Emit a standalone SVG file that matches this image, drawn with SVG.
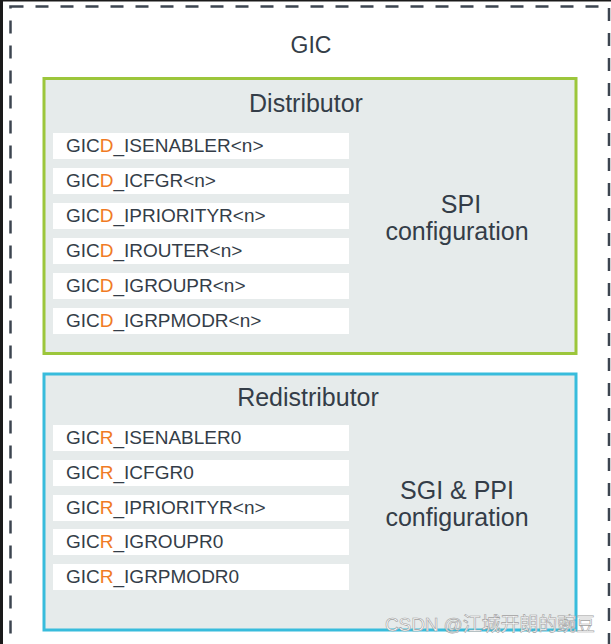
<svg xmlns="http://www.w3.org/2000/svg" width="611" height="644" viewBox="0 0 611 644">
<style>
.t{font-family:"Liberation Sans",Arial,sans-serif;fill:#343d48}
.title{font-size:25px;text-anchor:middle}
.reg{font-size:19px}
.o{fill:#f07b25}
.row{fill:#ffffff}
.panel{fill:#e6ebeb;stroke-width:3}
</style>
<rect x="0" y="0" width="611" height="644" fill="#ffffff"/>
<rect x="0" y="0" width="3" height="644" fill="#1a1a1a"/>
<rect x="0" y="0" width="611" height="1.5" fill="#1a1a1a"/>
<g id="gic">
<rect x="10.5" y="6.5" width="598.5" height="640" fill="none" stroke="#3d4550" stroke-width="2.5" stroke-dasharray="13 12"/>
<text class="t" x="311" y="53" font-size="23" text-anchor="middle">GIC</text>
</g>
<g id="distributor">
<rect class="panel" x="44" y="78.5" width="532" height="275" stroke="#9cc63b"/>
<text class="t title" x="306" y="112">Distributor</text>
<rect class="row" x="53" y="133" width="296" height="26"/>
<rect class="row" x="53" y="168" width="296" height="26"/>
<rect class="row" x="53" y="203" width="296" height="26"/>
<rect class="row" x="53" y="238" width="296" height="26"/>
<rect class="row" x="53" y="273" width="296" height="26"/>
<rect class="row" x="53" y="308" width="296" height="26"/>
<text class="t reg" x="66" y="152">GIC<tspan class="o">D</tspan>_ISENABLER&lt;n&gt;</text>
<text class="t reg" x="66" y="187">GIC<tspan class="o">D</tspan>_ICFGR&lt;n&gt;</text>
<text class="t reg" x="66" y="222">GIC<tspan class="o">D</tspan>_IPRIORITYR&lt;n&gt;</text>
<text class="t reg" x="66" y="257">GIC<tspan class="o">D</tspan>_IROUTER&lt;n&gt;</text>
<text class="t reg" x="66" y="292">GIC<tspan class="o">D</tspan>_IGROUPR&lt;n&gt;</text>
<text class="t reg" x="66" y="327">GIC<tspan class="o">D</tspan>_IGRPMODR&lt;n&gt;</text>
<text class="t title" x="461" y="213">SPI</text>
<text class="t title" x="457" y="240">configuration</text>
</g>
<g id="redistributor">
<rect class="panel" x="44" y="374" width="532" height="256" stroke="#38bcdc"/>
<text class="t title" x="308" y="406">Redistributor</text>
<rect class="row" x="53" y="425" width="296" height="26"/>
<rect class="row" x="53" y="460" width="296" height="26"/>
<rect class="row" x="53" y="495" width="296" height="26"/>
<rect class="row" x="53" y="529" width="296" height="26"/>
<rect class="row" x="53" y="564" width="296" height="26"/>
<text class="t reg" x="66" y="444">GIC<tspan class="o">R</tspan>_ISENABLER0</text>
<text class="t reg" x="66" y="479">GIC<tspan class="o">R</tspan>_ICFGR0</text>
<text class="t reg" x="66" y="514">GIC<tspan class="o">R</tspan>_IPRIORITYR&lt;n&gt;</text>
<text class="t reg" x="66" y="548">GIC<tspan class="o">R</tspan>_IGROUPR0</text>
<text class="t reg" x="66" y="583">GIC<tspan class="o">R</tspan>_IGRPMODR0</text>
<text class="t title" x="457" y="499">SGI &amp; PPI</text>
<text class="t title" x="457" y="526">configuration</text>
</g>
<g id="connectors"/>
<text x="385" y="631" font-family="'Liberation Sans','Noto Sans CJK SC',sans-serif" font-size="19" fill="#ffffff" stroke="#a0a0a0" stroke-width="0.6" textLength="210">CSDN @江城开朗的豌豆</text>
</svg>
